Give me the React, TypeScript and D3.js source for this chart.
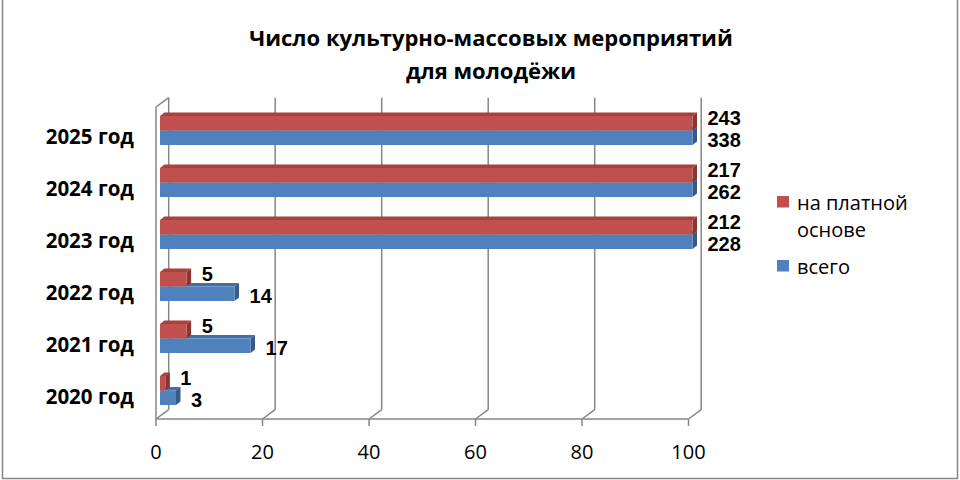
import React from "react";
import * as d3 from "d3";

const categories = ["2020 год", "2021 год", "2022 год", "2023 год", "2024 год", "2025 год"];
const paidValues = [1, 5, 5, 212, 217, 243];
const totalValues = [3, 17, 14, 228, 262, 338];
const seriesNames = ["на платной", "основе", "всего"];
const xTicks = [0, 20, 40, 60, 80, 100];
const titleLines = ["Число культурно-массовых мероприятий", "для молодёжи"];

const W = 960;
const H = 480;
const FONT = "'Open Sans', 'DejaVu Sans', sans-serif";
const LABEL_FONT = "'Liberation Sans', Arial, sans-serif";
const GRID = "#868686";

const RED = { front: "#C0504D", top: "#A8403D", side: "#8B3533" };
const BLUE = { front: "#4F81BD", top: "#426FA6", side: "#37598A" };

export default function App() {
  const x = d3.scaleLinear().domain([0, 100]).range([156, 688.5]);
  const y = d3
    .scaleBand<string>()
    .domain([...categories].reverse())
    .range([107, 419])
    .padding(0);

  const DX = 12.7; // back wall depth offset
  const DY = -9.3;
  const PX = 4; // bar plane offset
  const PY = -2.5;
  const BDX = 4.5; // bar depth
  const BDY = -3.5;
  const BH = 14.5;

  const top = 107;
  const bottom = 419;

  const bar = (v: number, yTop: number, c: { front: string; top: string; side: string }, key: string) => {
    const x0 = x(0) + PX;
    const x1 = x(Math.min(v, 100)) + PX;
    const y0 = yTop;
    const y1 = yTop + BH;
    return (
      <g key={key}>
        <polygon
          points={`${x0},${y0} ${x0 + BDX},${y0 + BDY} ${x1 + BDX},${y0 + BDY} ${x1},${y0}`}
          fill={c.top}
        />
        <polygon
          points={`${x1},${y0} ${x1 + BDX},${y0 + BDY} ${x1 + BDX},${y1 + BDY} ${x1},${y1}`}
          fill={c.side}
        />
        <rect x={x0} y={y0} width={x1 - x0} height={BH} fill={c.front} />
      </g>
    );
  };

  return (
    <svg
      width={W}
      height={H}
      style={{ position: "absolute", left: 0, top: 0, background: "#fff" }}
      fontFamily={FONT}
    >
      <rect x={0} y={0} width={W} height={H} fill="#fff" />
      <rect x={2.5} y={-3} width={955} height={481.5} fill="none" stroke={GRID} strokeWidth={1.5} />

      {/* title */}
      {titleLines.map((t, i) => (
        <text key={t} x={491} y={45.5 + i * 33} textAnchor="middle" fontWeight="bold" fontSize={22} fill="#000">
          {t}
        </text>
      ))}

      {/* back wall gridlines */}
      {xTicks.map((t) => (
        <line key={"g" + t} x1={x(t) + DX} x2={x(t) + DX} y1={top + DY} y2={bottom + DY} stroke={GRID} strokeWidth={1.5} />
      ))}
      {/* floor diagonals */}
      {xTicks.map((t) => (
        <line key={"d" + t} x1={x(t)} x2={x(t) + DX} y1={bottom} y2={bottom + DY} stroke={GRID} strokeWidth={1.5} />
      ))}
      {/* left side wall */}
      <line x1={x(0)} x2={x(0)} y1={top} y2={bottom} stroke={GRID} strokeWidth={1.5} />
      <line x1={x(0)} x2={x(0) + DX} y1={top} y2={top + DY} stroke={GRID} strokeWidth={1.5} />
      {/* front floor edge */}
      <line x1={x(0)} x2={x(100)} y1={bottom} y2={bottom} stroke={GRID} strokeWidth={1.5} />
      {/* ticks */}
      {xTicks.map((t) => (
        <g key={"t" + t}>
          <line x1={x(t)} x2={x(t)} y1={bottom} y2={bottom + 7} stroke={GRID} strokeWidth={1.5} />
          <text x={x(t)} y={451} textAnchor="middle" dominantBaseline="central" fontSize={20} fill="#000">
            {t}
          </text>
        </g>
      ))}

      {/* bars */}
      {categories.map((c, i) => {
        const cy = (y(c) ?? 0) + y.bandwidth() / 2 + PY;
        return (
          <g key={c}>
            {bar(totalValues[i], cy, BLUE, "b")}
            {bar(paidValues[i], cy - BH, RED, "r")}
          </g>
        );
      })}

      {/* data labels */}
      {categories.map((c, i) => {
        const cy = (y(c) ?? 0) + y.bandwidth() / 2 + PY;
        return (
          <g key={"l" + c} fontFamily={LABEL_FONT} fontWeight="bold" fontSize={20} fill="#000">
            <text x={x(Math.min(paidValues[i], 100)) + PX + 15} y={cy - BH / 2 - 5.5} dominantBaseline="central">
              {paidValues[i]}
            </text>
            <text x={x(Math.min(totalValues[i], 100)) + PX + 15} y={cy + BH / 2 + 2.5} dominantBaseline="central">
              {totalValues[i]}
            </text>
          </g>
        );
      })}

      {/* category labels */}
      {categories.map((c) => (
        <text
          key={"c" + c}
          x={134}
          y={(y(c) ?? 0) + y.bandwidth() / 2 + 3}
          textAnchor="end"
          dominantBaseline="central"
          fontWeight="bold"
          fontSize={20.5}
          fill="#000"
        >
          {c}
        </text>
      ))}

      {/* legend */}
      <rect x={777} y={196} width={12} height={11.5} fill={RED.front} />
      <text x={797} y={209.5} fontSize={20} fill="#000">{seriesNames[0]}</text>
      <text x={797} y={237} fontSize={20} fill="#000">{seriesNames[1]}</text>
      <rect x={777} y={260} width={12} height={11.5} fill={BLUE.front} />
      <text x={797} y={273.5} fontSize={20} fill="#000">{seriesNames[2]}</text>
    </svg>
  );
}
